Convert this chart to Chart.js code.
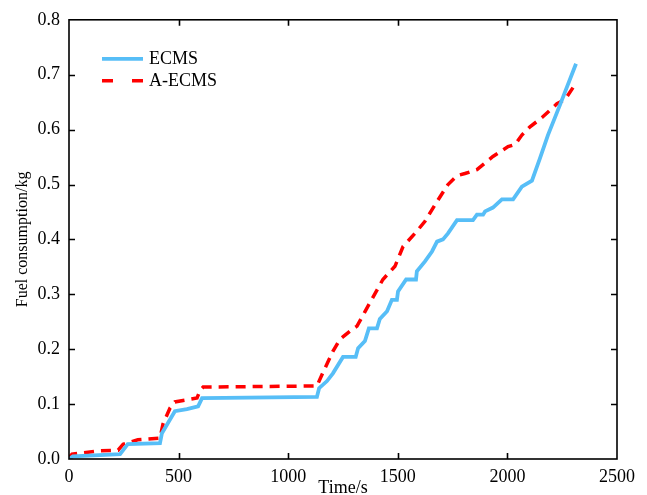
<!DOCTYPE html>
<html>
<head>
<meta charset="utf-8">
<script src="https://cdn.jsdelivr.net/npm/chart.js"></script>
<style>
  html, body { margin: 0; padding: 0; background: #fff; }
  #wrap { width: 647px; height: 495px; }
</style>
</head>
<body>
<div id="wrap"><canvas id="fuelChart" width="647" height="495"></canvas></div>
<script>
// time (s) and cumulative fuel (kg)
var ecmsTime = [0, 18, 233, 268, 415, 424, 483, 538, 589, 607, 1131, 1141, 1177, 1204, 1250, 1308, 1319, 1350, 1368, 1405,
    1418, 1451, 1473, 1496, 1501, 1538, 1583, 1587, 1624, 1656, 1679, 1706, 1729, 1770, 1843, 1861, 1889, 1898, 1934,
    1975, 2026, 2066, 2112, 2148, 2185, 2240, 2313];
var ecmsFuel = [0, 0.005, 0.009, 0.027, 0.029, 0.047, 0.087, 0.091, 0.096, 0.111, 0.113, 0.129, 0.142, 0.156, 0.186, 0.186,
    0.202, 0.215, 0.238, 0.238, 0.255, 0.269, 0.290, 0.290, 0.305, 0.327, 0.327, 0.342, 0.360, 0.378, 0.396, 0.400, 0.411,
    0.435, 0.435, 0.445, 0.445, 0.451, 0.458, 0.473, 0.473, 0.496, 0.507, 0.547, 0.590, 0.645, 0.720];

var aecmsTime = [0, 14, 141, 224, 247, 314, 415, 429, 461, 483, 529, 584, 598, 612, 1131, 1159, 1204, 1236, 1291, 1314,
    1351, 1432, 1487, 1524, 1587, 1624, 1679, 1729, 1770, 1806, 1861, 1889, 1934, 2003, 2035, 2066, 2103, 2158, 2226,
    2263, 2317];
var aecmsFuel = [0.002, 0.009, 0.015, 0.016, 0.027, 0.035, 0.038, 0.064, 0.093, 0.104, 0.107, 0.111, 0.125, 0.131, 0.133,
    0.158, 0.196, 0.218, 0.236, 0.242, 0.269, 0.327, 0.351, 0.387, 0.415, 0.433, 0.469, 0.500, 0.516, 0.520, 0.527, 0.536,
    0.551, 0.569, 0.573, 0.590, 0.605, 0.622, 0.647, 0.655, 0.687];

var xTicks = [0, 500, 1000, 1500, 2000, 2500];
var yTicks = [0, 0.1, 0.2, 0.3, 0.4, 0.5, 0.6, 0.7, 0.8];

function toPoints(xs, ys) {
    return xs.map(function (x, i) { return { x: x, y: ys[i] }; });
}

var serif = "'Liberation Serif', 'Times New Roman', serif";

// box around the plot with ticks pointing inwards on all four sides
var frame = {
    id: "frame",
    afterDraw: function (chart) {
        var c = chart.ctx, a = chart.chartArea;
        var xs = chart.scales.x, ys = chart.scales.y;
        c.save();
        c.strokeStyle = "#000";
        c.lineWidth = 1.6;
        c.strokeRect(a.left, a.top, a.right - a.left, a.bottom - a.top);
        c.beginPath();
        xTicks.slice(1, -1).forEach(function (v) {
            var px = Math.round(xs.getPixelForValue(v)) + 0.5;
            c.moveTo(px, a.bottom); c.lineTo(px, a.bottom - 6);
            c.moveTo(px, a.top); c.lineTo(px, a.top + 6);
        });
        yTicks.slice(1, -1).forEach(function (v) {
            var py = Math.round(ys.getPixelForValue(v)) + 0.5;
            c.moveTo(a.left, py); c.lineTo(a.left + 6, py);
            c.moveTo(a.right, py); c.lineTo(a.right - 6, py);
        });
        c.stroke();
        c.restore();
    }
};

// legend drawn inside the plot, top left
var innerLegend = {
    id: "innerLegend",
    afterDatasetsDraw: function (chart) {
        var c = chart.ctx, a = chart.chartArea;
        var x0 = a.left + 33, y0 = a.top + 39;
        c.save();
        chart.data.datasets.forEach(function (ds, i) {
            var y = y0 + i * 22;
            c.beginPath();
            c.strokeStyle = ds.borderColor;
            c.lineWidth = ds.borderWidth;
            c.setLineDash(ds.borderDash && ds.borderDash.length ? [11, 19] : []);
            c.moveTo(x0, y); c.lineTo(x0 + 41, y);
            c.stroke();
            c.setLineDash([]);
            c.fillStyle = "#000";
            c.font = "18px " + serif;
            c.textBaseline = "middle";
            c.fillText(ds.label, x0 + 47, y);
        });
        c.restore();
    }
};

new Chart(document.getElementById("fuelChart").getContext("2d"), {
    type: "line",
    data: {
        datasets: [{
            label: "ECMS",
            data: toPoints(ecmsTime, ecmsFuel),
            borderColor: "#57BEF7",
            borderWidth: 3.8,
            pointRadius: 0,
            tension: 0,
            fill: false
        }, {
            label: "A-ECMS",
            data: toPoints(aecmsTime, aecmsFuel),
            borderColor: "#FF0000",
            borderWidth: 3.5,
            borderDash: [10, 7],
            pointRadius: 0,
            tension: 0,
            fill: false
        }]
    },
    options: {
        responsive: false,
        animation: false,
        layout: { padding: { top: 19, right: 30, left: 0, bottom: 0 } },
        scales: {
            x: {
                type: "linear",
                min: 0,
                max: 2500,
                afterBuildTicks: function (s) { s.ticks = xTicks.map(function (v) { return { value: v }; }); },
                afterFit: function (s) { s.height = 36; },
                grid: { display: false, drawTicks: false },
                border: { display: false },
                ticks: {
                    color: "#000",
                    padding: 7,
                    maxRotation: 0,
                    font: { family: serif, size: 18 },
                    callback: function (v) { return String(v); }
                },
                title: {
                    display: true,
                    text: "Time/s",
                    color: "#000",
                    padding: { top: 0, bottom: -4 },
                    font: { family: serif, size: 18 }
                }
            },
            y: {
                min: 0,
                max: 0.8,
                afterBuildTicks: function (s) { s.ticks = yTicks.map(function (v) { return { value: v }; }); },
                afterFit: function (s) { s.width = 69; },
                grid: { display: false, drawTicks: false },
                border: { display: false },
                ticks: {
                    color: "#000",
                    padding: 9,
                    font: { family: serif, size: 18 },
                    callback: function (v) { return v.toFixed(1); }
                },
                title: {
                    display: true,
                    text: "Fuel consumption/kg",
                    color: "#000",
                    padding: { top: 13, bottom: 0 },
                    font: { family: serif, size: 16 }
                }
            }
        },
        plugins: {
            legend: { display: false },
            tooltip: { enabled: false }
        }
    },
    plugins: [frame, innerLegend]
});
</script>
</body>
</html>
